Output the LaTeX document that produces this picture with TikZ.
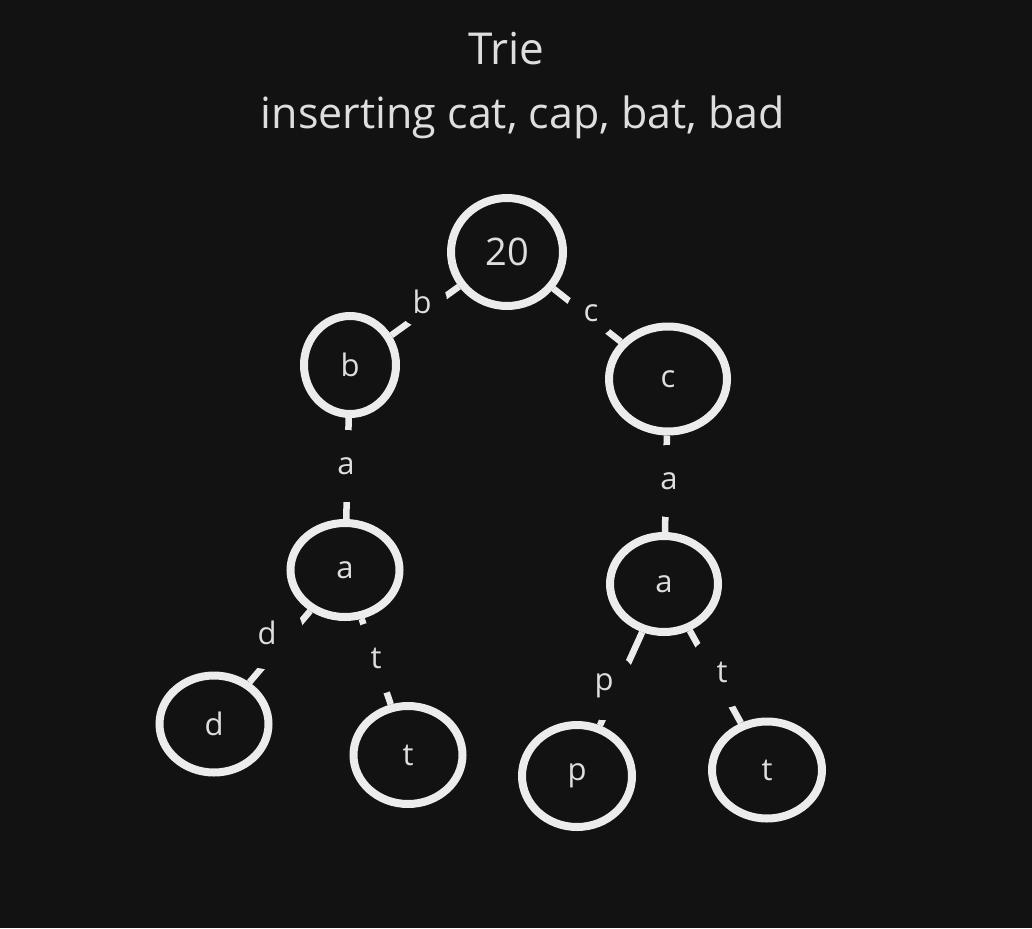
\documentclass[tikz,border=0pt]{standalone}
\usepackage{fontspec}
\setmainfont{Open Sans}
\usetikzlibrary{shapes.geometric}
\definecolor{bg}{HTML}{121212}
\definecolor{fg}{HTML}{ECECEC}
\definecolor{tx}{HTML}{DEDEDE}
\pgfdeclarelayer{under}
\pgfsetlayers{under,main}
\begin{document}
\begin{tikzpicture}[x=1pt,y=-1pt,
  tnode/.style={ellipse, draw=fg, line width=8pt, text=tx, inner sep=0pt,
    font=\fontsize{31}{36}\selectfont},
  conn/.style={draw=fg, line width=6.5pt},
  lbl/.style={circle, fill=bg, text=tx, inner sep=0pt, minimum size=72pt,
    font=\fontsize{31}{36}\selectfont},
  ttl/.style={text=tx, inner sep=0pt}]
\begin{pgfonlayer}{under}
\fill[bg] (0,0) rectangle (1032,928);
\end{pgfonlayer}
\useasboundingbox (0,0) rectangle (1032,928);

\node[ttl, font=\fontsize{44}{50}\selectfont] (title) at (506,49) {Trie};
\node[ttl, font=\fontsize{43}{50}\selectfont] (sub) at (523,117) {inserting cat, cap, bat, bad};

\node[tnode, minimum width=112pt, minimum height=108pt, font=\fontsize{38}{44}\selectfont] (root) at (507,252) {20};
\node[tnode, minimum width=92pt, minimum height=98pt] (b) at (350,365) {b};
\node[tnode, minimum width=118pt, minimum height=105pt] (c) at (668,379) {c};
\node[tnode, minimum width=109pt, minimum height=94pt] (aL) at (345,570) {a};
\node[tnode, minimum width=108pt, minimum height=96pt] (aR) at (664,584) {a};
\node[tnode, minimum width=109pt, minimum height=97pt] (d) at (214,724) {d};
\node[tnode, minimum width=109pt, minimum height=98pt] (tL) at (408,755) {t};
\node[tnode, minimum width=110pt, minimum height=102pt] (p) at (577,776) {p};
\node[tnode, minimum width=110pt, minimum height=97pt] (tR) at (767,770) {t};

\begin{pgfonlayer}{under}
\draw[conn] (root) -- (b);
\draw[conn] (root) -- (c);
\draw[conn] (b) -- (aL);
\draw[conn] (c) -- (aR);
\draw[conn] (aL) -- (d);
\draw[conn] (aL) -- (tL);
\draw[conn] (aR) -- (p);
\draw[conn] (aR) -- (tR);

\node[lbl, minimum size=50pt] (lb) at (422,302) {b};
\node[lbl, minimum size=50pt] (lc) at (591,313) {c};
\node[lbl] (la1) at (346,466) {a};
\node[lbl] (la2) at (669,481) {a};
\node[lbl] (ld) at (267,633) {d};
\node[lbl] (lt1) at (376,658) {t};
\node[lbl, minimum size=68pt] (lp) at (604,686) {p};
\node[lbl] (lt2) at (722,672) {t};
\end{pgfonlayer}
\end{tikzpicture}
\end{document}
